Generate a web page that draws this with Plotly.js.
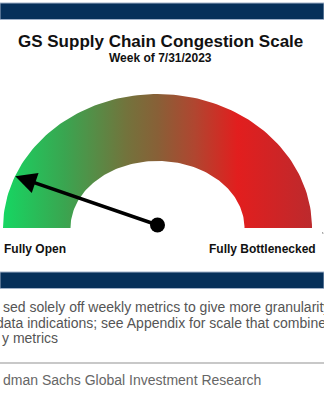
<!DOCTYPE html>
<html>
<head>
<meta charset="utf-8">
<script src="https://cdn.plot.ly/plotly-3.0.1.min.js"></script>
<style>html,body{margin:0;padding:0;background:#fff;}#chart{width:324px;height:400px;}</style>
</head>
<body>
<div id="chart"></div>
<script>
// ---- data ----
const chartTitle = "GS Supply Chain Congestion Scale";
const chartSubtitle = "Week of 7/31/2023";
const gaugeMin = 0;
const gaugeMax = 100;
const gaugeValue = 12;            // needle reading (0 = fully open, 100 = fully bottlenecked)
const endLabels = ["Fully Open", "Fully Bottlenecked"];
const footnoteLines = [
  "sed solely off weekly metrics to give more granularity",
  "data indications; see Appendix for scale that combine",
  "y metrics"
];
const sourceText = "dman Sachs Global Investment Research";

// ---- geometry (styling) ----
const W = 324, H = 400;
const cx = 157.5, cy = 228, rxPx = 154.5, ryPx = 134;   // outer arc in pixels
const innerRx = 87 / 154.5, innerRy = 67 / 134;          // inner arc in outer-radius units
const pivotY = 3 / 134;
const xr = [-cx / rxPx, (W - cx) / rxPx];
const yr = [-(H - cy) / ryPx, cy / ryPx];
const px = v => v / W, py = v => 1 - v / H;

// annulus polygon
const ax = [], ay = [];
const N = 120;
for (let i = 0; i <= N; i++) { const t = Math.PI * (1 - i / N); ax.push(Math.cos(t)); ay.push(Math.sin(t)); }
for (let i = 0; i <= N; i++) { const t = Math.PI * (i / N); ax.push(innerRx * Math.cos(t)); ay.push(innerRy * Math.sin(t)); }
ax.push(ax[0]); ay.push(ay[0]);

const frac = (gaugeValue - gaugeMin) / (gaugeMax - gaugeMin);
const ang = Math.PI * (1 - frac);
const needleLen = 0.99;
const tipX = needleLen * Math.cos(ang);
const tipY = pivotY + needleLen * Math.sin(ang);

const traces = [
  {
    type: "scatter", mode: "lines", x: ax, y: ay, fill: "toself",
    line: {width: 0, color: "rgba(0,0,0,0)"},
    fillgradient: {
      type: "horizontal",
      colorscale: [
        [0.0, "rgb(22,214,98)"],
        [0.2, "rgb(58,165,80)"],
        [0.4, "rgb(115,115,60)"],
        [0.5, "rgb(136,96,55)"],
        [0.62, "rgb(176,70,48)"],
        [0.76, "rgb(226,30,30)"],
        [1.0, "rgb(188,42,45)"]
      ]
    },
    hoverinfo: "skip", showlegend: false
  },
  {
    type: "scatter", mode: "markers",
    x: [0], y: [pivotY],
    marker: {symbol: "circle", size: 15, color: "#000", line: {width: 0}},
    hoverinfo: "skip", showlegend: false
  }
];

const shapes = [
  {type: "rect", xref: "paper", yref: "paper", x0: 0, x1: 1, y0: py(19.5), y1: py(3),
   fillcolor: "#06305a", line: {color: "#9fb0c8", width: 1}, layer: "above"},
  {type: "rect", xref: "paper", yref: "paper", x0: 0, x1: 1, y0: py(288.5), y1: py(272),
   fillcolor: "#06305a", line: {color: "#9fb0c8", width: 1}, layer: "above"},
  {type: "line", xref: "paper", yref: "paper", x0: 0, x1: 1, y0: py(363), y1: py(363),
   line: {color: "#c8c8c8", width: 2}},
  {type: "line", xref: "paper", yref: "paper", x0: px(322.5), x1: px(323), y0: py(232), y1: py(234),
   line: {color: "#999", width: 1}}
];

const sans = "'Liberation Sans', Arial, sans-serif";
const annotations = [
  {x: tipX, y: tipY, ax: 0, ay: pivotY, xref: "x", yref: "y", axref: "x", ayref: "y",
   text: "", showarrow: true, arrowhead: 2, arrowsize: 1.2, arrowwidth: 3.5, arrowcolor: "#000", standoff: 0},
  {text: "<b>" + chartTitle + "</b>", x: px(160), y: py(42), xref: "paper", yref: "paper",
   showarrow: false, xanchor: "center", yanchor: "middle",
   font: {family: sans, size: 17, color: "#111"}},
  {text: "<b>" + chartSubtitle + "</b>", x: px(160), y: py(58), xref: "paper", yref: "paper",
   showarrow: false, xanchor: "center", yanchor: "middle",
   font: {family: sans, size: 12, color: "#111"}},
  {text: "<b>" + endLabels[0] + "</b>", x: px(2), y: py(249), xref: "paper", yref: "paper",
   showarrow: false, xanchor: "left", yanchor: "middle",
   font: {family: sans, size: 12, color: "#111"}},
  {text: "<b>" + endLabels[1] + "</b>", x: px(318), y: py(249), xref: "paper", yref: "paper",
   showarrow: false, xanchor: "right", yanchor: "middle",
   font: {family: sans, size: 12, color: "#111"}}
];
const footX = [1, -6, 0];
const footY = [307, 323, 338];
footnoteLines.forEach((t, i) => annotations.push({
  text: t, x: px(footX[i]), y: py(footY[i]), xref: "paper", yref: "paper",
  showarrow: false, xanchor: "left", yanchor: "middle",
  font: {family: sans, size: 14, color: "#555"}
}));
annotations.push({
  text: sourceText, x: px(1), y: py(380), xref: "paper", yref: "paper",
  showarrow: false, xanchor: "left", yanchor: "middle",
  font: {family: sans, size: 14, color: "#666"}
});

const layout = {
  width: W, height: H,
  margin: {l: 0, r: 0, t: 0, b: 0, pad: 0},
  paper_bgcolor: "#fff", plot_bgcolor: "#fff",
  xaxis: {range: xr, visible: false, fixedrange: true},
  yaxis: {range: yr, visible: false, fixedrange: true},
  shapes: shapes, annotations: annotations, showlegend: false
};

Plotly.newPlot("chart", traces, layout, {displayModeBar: false, staticPlot: true});
</script>
</body>
</html>
